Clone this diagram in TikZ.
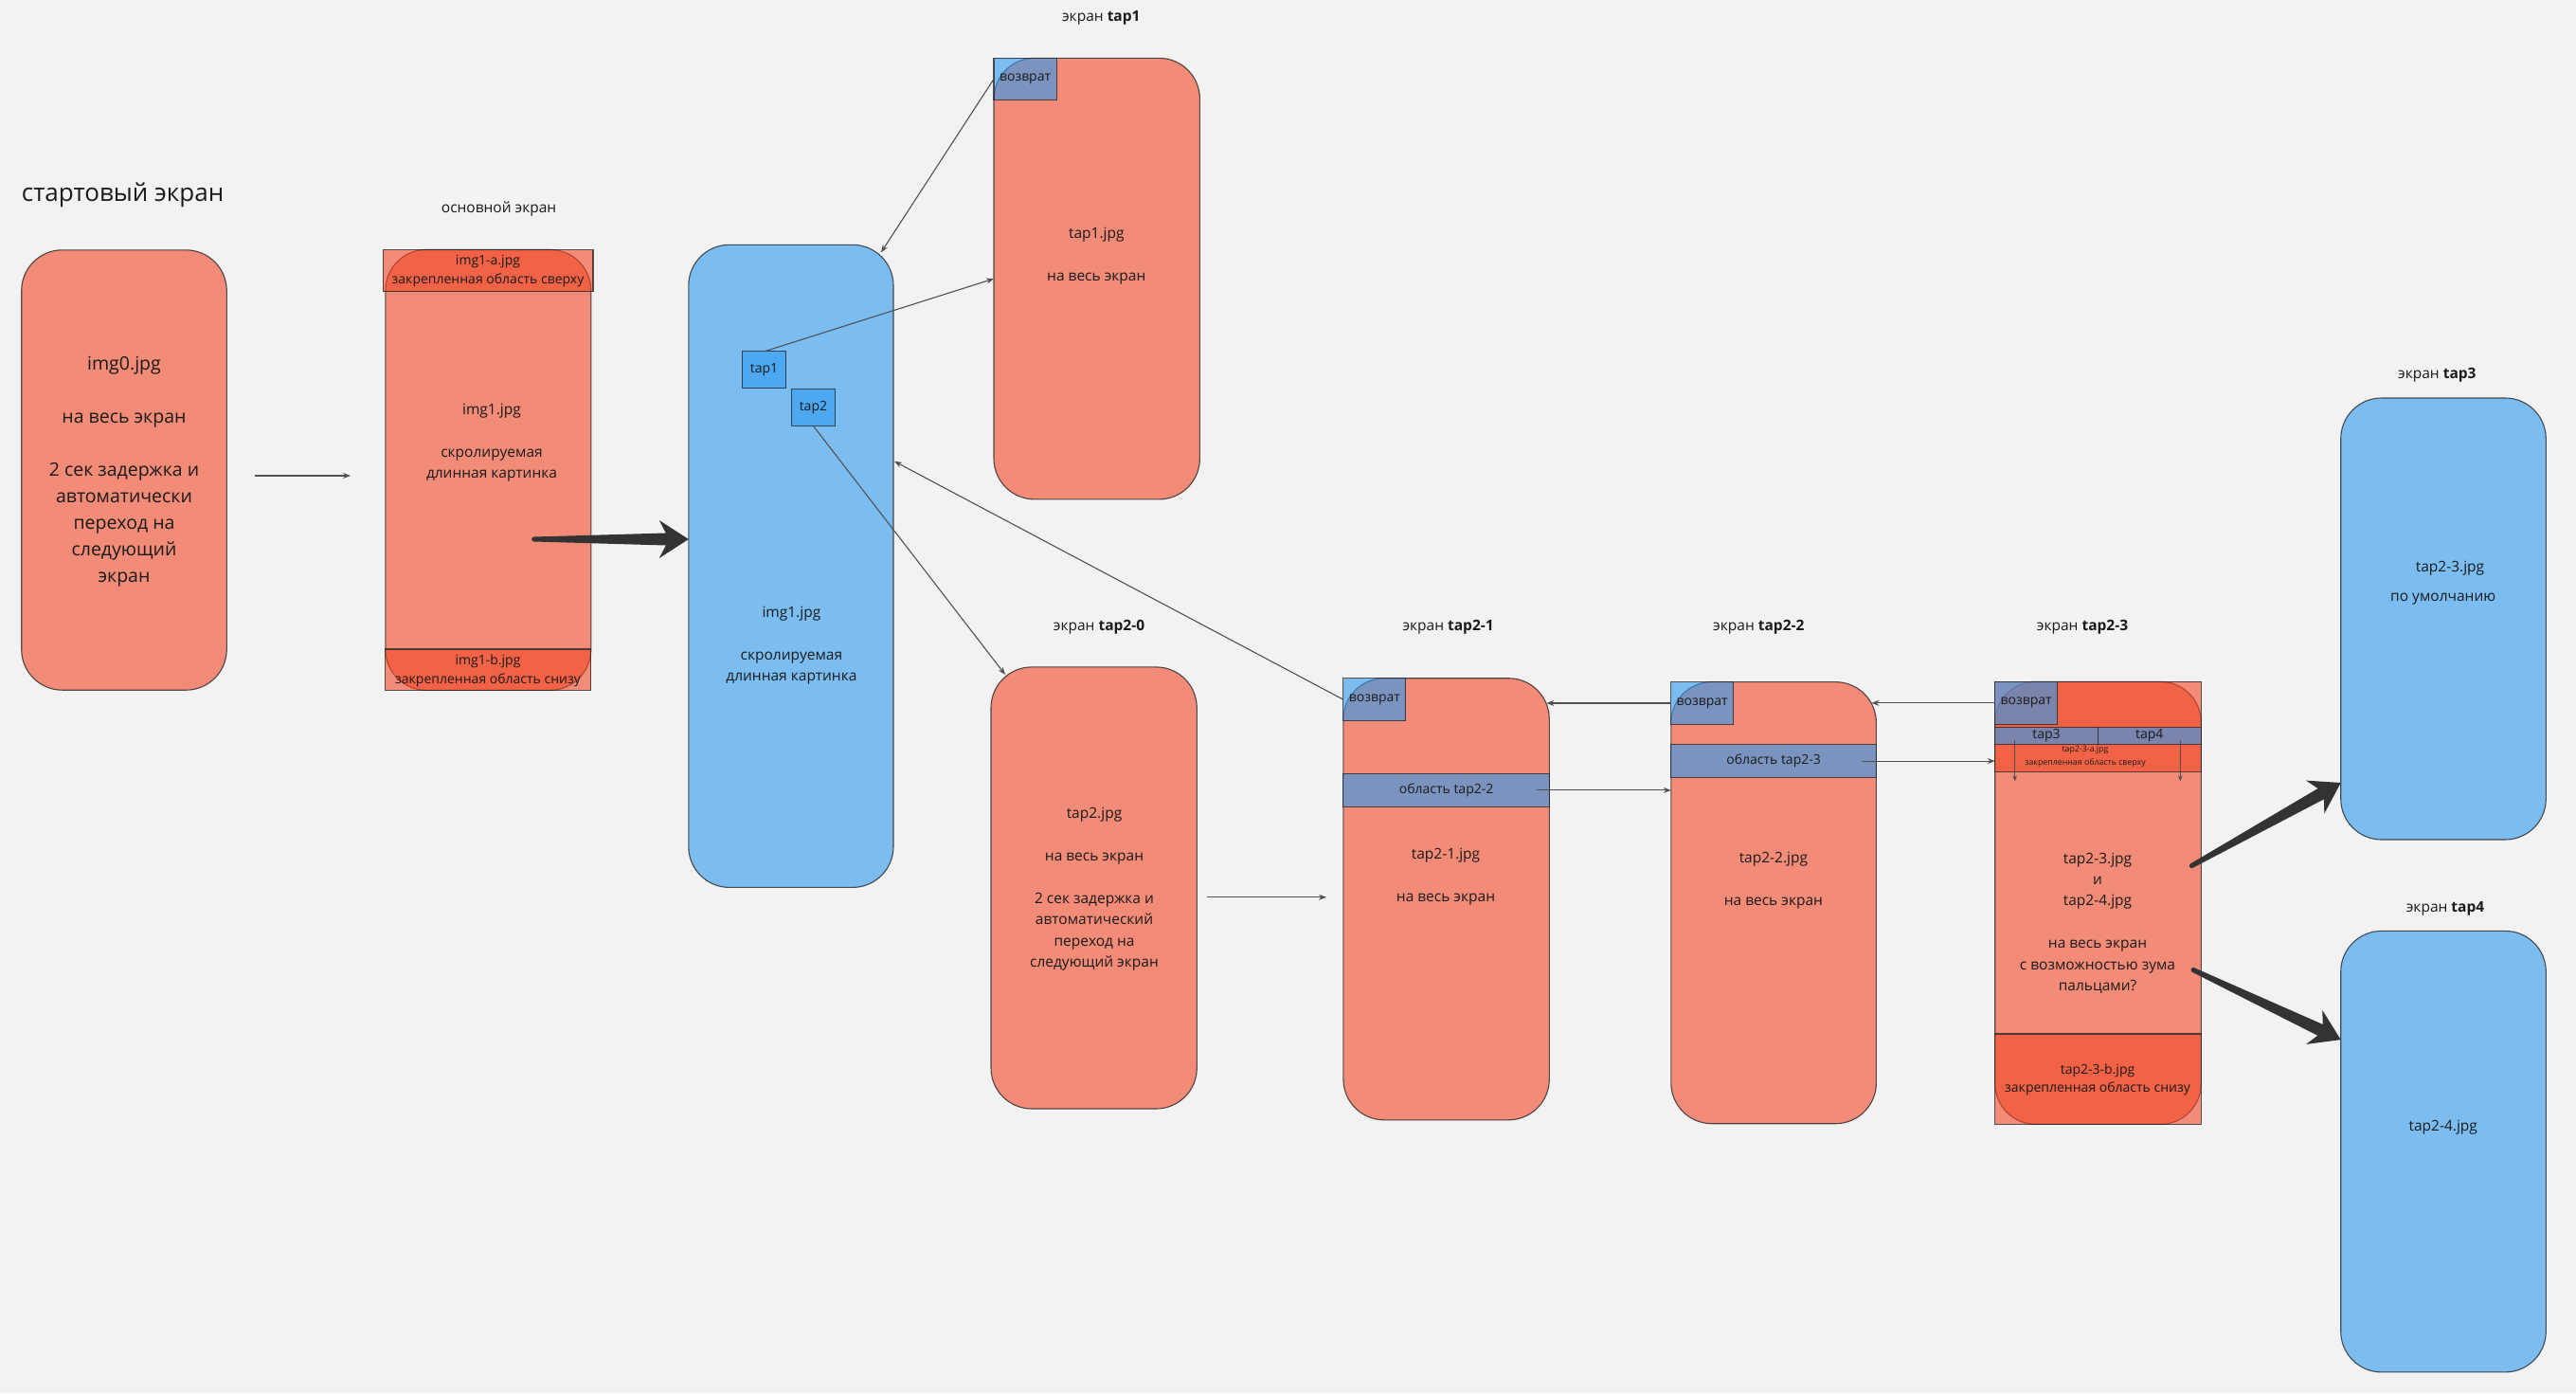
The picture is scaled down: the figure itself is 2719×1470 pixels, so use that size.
\documentclass[tikz,border=0pt]{standalone}
\usepackage{fontspec}
\setmainfont{Open Sans}
\usetikzlibrary{calc,arrows.meta}
\definecolor{bgc}{RGB}{242,242,242}
\definecolor{mred}{HTML}{F24726}
\definecolor{mblue}{HTML}{2D9BF0}
\definecolor{edgec}{RGB}{40,40,40}
\definecolor{connc}{RGB}{80,80,80}
\definecolor{fatc}{RGB}{51,51,51}
\definecolor{txtc}{RGB}{26,26,26}
\tikzset{
  shp/.style={draw=edgec, draw opacity=0.8, line width=1.1pt, fill opacity=0.6, text opacity=1,
    anchor=north west, inner sep=0pt, outer sep=0pt, text=txtc, font=\fontsize{14pt}{17pt}\selectfont},
  redbox/.style={shp, fill=mred},
  bluebox/.style={shp, fill=mblue},
  scr/.style={rounded corners=43pt},
  conn/.style={draw=connc, line width=1.1pt, -{Stealth[length=8pt,width=6pt]}},
  lbl/.style={text=txtc, font=\fontsize{15.5pt}{19pt}\selectfont, inner sep=0pt},
  body/.style={text=txtc, font=\fontsize{15.5pt}{22.4pt}\selectfont, align=center, inner sep=0pt},
  small/.style={text=txtc, font=\fontsize{14pt}{19.8pt}\selectfont, align=center, inner sep=0pt},
  tiny/.style={text=txtc, font=\fontsize{8.8pt}{13.2pt}\selectfont, align=center, inner sep=0pt},
}
\newcommand{\fatarrow}[2]{%
  \coordinate (fah) at ($(#2)!24pt!(#1)$);
  \coordinate (faw) at ($(#2)!31pt!(#1)$);
  \fill[fatc] ($(#1)!2.5pt!90:(#2)$) -- ($(fah)!6.5pt!90:(#2)$) -- ($(faw)!20pt!90:(#2)$) -- (#2)
    -- ($(faw)!20pt!-90:(#2)$) -- ($(fah)!6.5pt!-90:(#2)$) -- ($(#1)!2.5pt!-90:(#2)$) -- cycle;
  \fill[fatc] (#1) circle (2.5pt);
}
\begin{document}
\begin{tikzpicture}[x=1pt,y=-1pt]
\fill[bgc] (0,0) rectangle (2719,1470);
\useasboundingbox (0,0) rectangle (2719,1470);

% ---------- start screen
\node[lbl, font=\fontsize{26pt}{30pt}\selectfont, anchor=west] (lbl0) at (22.7,205.6) {стартовый экран};
\node[redbox, scr, minimum width=216.6pt, minimum height=464.4pt] (img0) at (22.7,263.8) {};

% ---------- main screen
\node[lbl] (lbl1) at (526.6,220.7) {основной экран};
\node[redbox, scr, minimum width=217pt, minimum height=464.8pt] (mainscr) at (406.8,263.5) {};
\node[redbox, minimum width=221.9pt, minimum height=44pt] (maintop) at (404.1,263.5) {};
\node[redbox, minimum width=217pt, minimum height=43.3pt] (mainbot) at (406.8,685) {};

% ---------- blue screen
\node[bluebox, scr, minimum width=216.2pt, minimum height=678.1pt] (blue) at (726.8,258.3) {};
\node[bluebox, minimum width=46.3pt, minimum height=38.9pt] (tap1b) at (783.4,370.9) {tap1};
\node[bluebox, minimum width=46.7pt, minimum height=38.9pt] (tap2b) at (835.1,410.5) {tap2};

% ---------- tap1 screen
\node[lbl] (lbltap1) at (1162.3,18.9) {экран \textbf{tap1}};
\node[redbox, scr, minimum width=217.4pt, minimum height=465.6pt] (tap1s) at (1049,61.3) {};
\node[bluebox, minimum width=66.2pt, minimum height=44.1pt] (vz1) at (1049,61.3) {возврат};

% ---------- tap2-0
\node[lbl] (lbl20) at (1160,662.1) {экран \textbf{tap2-0}};
\node[redbox, scr, minimum width=217.3pt, minimum height=466.1pt] (t20) at (1046,703.9) {};

% ---------- tap2-1
\node[lbl] (lbl21) at (1528.6,662.1) {экран \textbf{tap2-1}};
\node[redbox, scr, minimum width=217.4pt, minimum height=466.1pt] (t21) at (1417.9,715.7) {};
\node[bluebox, minimum width=66pt, minimum height=45pt] (vz21) at (1417.9,715.7) {возврат};
\node[bluebox, minimum width=217.4pt, minimum height=35pt] (band21) at (1417.9,816.4) {область tap2-2};

% ---------- tap2-2
\node[lbl] (lbl22) at (1856.3,662.1) {экран \textbf{tap2-2}};
\node[redbox, scr, minimum width=216.6pt, minimum height=466.1pt] (t22) at (1763.8,719.6) {};
\node[bluebox, minimum width=65.7pt, minimum height=44.7pt] (vz22) at (1763.8,719.6) {возврат};
\node[bluebox, minimum width=216.6pt, minimum height=34.7pt] (band22) at (1763.8,785.7) {область tap2-3};

% ---------- tap2-3
\node[lbl] (lbl23) at (2198,662.1) {экран \textbf{tap2-3}};
\node[redbox, scr, minimum width=217.6pt, minimum height=467.1pt] (t23) at (2105.7,719.3) {};
\node[redbox, minimum width=217.6pt, minimum height=95pt] (t23top) at (2105.7,719.3) {};
\node[redbox, minimum width=217.6pt, minimum height=95.4pt] (t23bot) at (2105.7,1091) {};
\node[bluebox, minimum width=66pt, minimum height=45pt] (vz23) at (2105.7,719.3) {возврат};
\node[bluebox, minimum width=108.6pt, minimum height=17.9pt] (tap3c) at (2105.7,767.5) {tap3};
\node[bluebox, minimum width=109pt, minimum height=17.9pt] (tap4c) at (2214.3,767.5) {tap4};

% ---------- tap3 / tap4 screens
\node[lbl] (lbltap3) at (2572.3,395.7) {экран \textbf{tap3}};
\node[bluebox, scr, minimum width=216.6pt, minimum height=466pt] (tap3s) at (2470.7,420) {};
\node[lbl] (lbltap4) at (2581,958.6) {экран \textbf{tap4}};
\node[bluebox, scr, minimum width=216.6pt, minimum height=465.5pt] (tap4s) at (2470.7,982.4) {};

% ---------- texts
\node[body, font=\fontsize{19.5pt}{28pt}\selectfont] (img0txt) at (131,497.6)
  {img0.jpg\\[28pt]на весь экран\\[28pt]2 сек задержка и\\автоматически\\переход на\\следующий\\экран};
\node[small] (m1a) at (515,286.2) {img1-a.jpg\\закрепленная область сверху};
\node[body] (m1txt) at (519,467.3) {img1.jpg\\[22.4pt]скролируемая\\длинная картинка};
\node[small] (m1b) at (515,707.6) {img1-b.jpg\\закрепленная область снизу};
\node[body] (bltxt) at (835.4,681.2) {img1.jpg\\[22.4pt]скролируемая\\длинная картинка};
\node[body] (tap1txt) at (1157.3,270.3) {tap1.jpg\\[22.4pt]на весь экран};
\node[body] (t20txt) at (1155,938.2)
  {tap2.jpg\\[22.4pt]на весь экран\\[22.4pt]2 сек задержка и\\автоматический\\переход на\\следующий экран};
\node[body] (t21txt) at (1526,925.5) {tap2-1.jpg\\[22.4pt]на весь экран};
\node[body] (t22txt) at (1871.9,929.4) {tap2-2.jpg\\[22.4pt]на весь экран};
\node[tiny] (t23a) at (2201,798.4) {tap2-3-a.jpg\\закрепленная область сверху};
\node[body] (t23txt) at (2214,974)
  {tap2-3.jpg\\и\\tap2-4.jpg\\[22.4pt]на весь экран\\с возможностью зума\\пальцами?};
\node[small, font=\fontsize{14pt}{19pt}\selectfont] (t23b) at (2214,1139.5) {tap2-3-b.jpg\\закрепленная область снизу};
\node[body] (tap3t1) at (2586,599.3) {tap2-3.jpg};
\node[body] (tap3t2) at (2578.7,632.1) {по умолчанию};
\node[body] (tap4t1) at (2578.7,1189.4) {tap2-4.jpg};

% ---------- thin connectors (positive y offset = downwards)
\coordinate (c01s) at (269.3,502);
\coordinate (c01e) at (370,502);
\draw[conn] (c01s) -- (c01e);
\draw[conn] (tap1b.north) -- (tap1s.west);
\draw[conn] (vz1.west) -- ($(blue.north east)+(-13,8)$);
\draw[conn] (tap2b.south) -- ($(t20.north west)+(15,8)$);
\draw[conn] (vz21.west) -- ($(blue.north east)+(1,228.5)$);
\coordinate (c20s) at (1274,946.8);
\coordinate (c20e) at (1400,946.8);
\draw[conn] (c20s) -- (c20e);
\draw[conn] ($(band21.east)+(-13,0)$) -- (band21.east -| t22.west);
\draw[conn] (vz22.west) -- ($(vz22.west -| t21.east)+(-3,0)$);
\draw[conn] ($(band22.east)+(-15,0)$) -- (band22.east -| t23.west);
\draw[conn] (vz23.west) -- ($(vz23.west -| t22.east)+(-5,0)$);
\draw[conn, -{Stealth[length=6pt,width=4.5pt]}] ($(tap3c.south west)+(21,-4)$) -- ($(tap3c.south west)+(21,39)$);
\draw[conn, -{Stealth[length=6pt,width=4.5pt]}] ($(tap4c.south east)+(-22,-4)$) -- ($(tap4c.south east)+(-22,39)$);

% ---------- thick arrows
\coordinate (fa1s) at (563.7,569);
\coordinate (fa1e) at (blue.west |- fa1s);
\fatarrow{fa1s}{fa1e}
\coordinate (fa2s) at (2313.3,913.6);
\coordinate (fa2e) at ($(tap3s.south west)+(0,-60)$);
\fatarrow{fa2s}{fa2e}
\coordinate (fa3s) at (2315,1023.5);
\coordinate (fa3e) at ($(tap4s.north west)+(0,114.7)$);
\fatarrow{fa3s}{fa3e}
\end{tikzpicture}
\end{document}
